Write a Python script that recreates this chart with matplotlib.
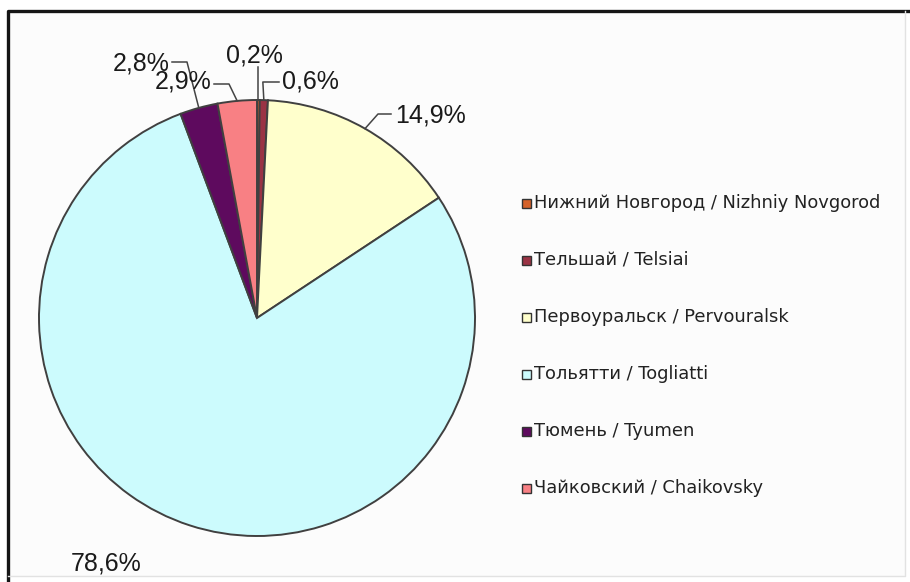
import numpy as np
import matplotlib.pyplot as plt
from matplotlib.patches import Rectangle

plt.rcParams['font.family'] = ['Liberation Sans', 'DejaVu Sans']

cities = ["Нижний Новгород / Nizhniy Novgorod",
          "Тельшай / Telsiai",
          "Первоуральск / Pervouralsk",
          "Тольятти / Togliatti",
          "Тюмень / Tyumen",
          "Чайковский / Chaikovsky"]
shares = [0.2, 0.6, 14.9, 78.6, 2.8, 2.9]
colors = ["#D5622A", "#9A3344", "#FFFFCC", "#CCFBFD", "#5E0A5E", "#F88084"]

W, H = 910, 582
fig = plt.figure(figsize=(W / 100, H / 100), dpi=100)
fig.patch.set_facecolor("white")
ax = fig.add_axes([0, 0, 1, 1])

# chart area with a dark top/left edge and a faint bottom/right edge
ax.add_patch(Rectangle((8, 6), W - 13, H - 17, facecolor="#fcfcfc",
                       edgecolor="none", zorder=0))
ax.plot([8, 8, W], [0, H - 11, H - 11], color="#151515", linewidth=2.4,
        solid_capstyle="butt", zorder=1)
ax.plot([8, W - 5, W - 5], [6, 6, H - 11], color="#e2e2e2", linewidth=1.0,
        zorder=1)

cx, cy, r = 257, H - 318, 218
wedges, _ = ax.pie(shares, startangle=90, counterclock=False, colors=colors,
                   radius=r, center=(cx, cy),
                   wedgeprops=dict(edgecolor="#404040", linewidth=1.4))
ax.set_xlim(0, W)
ax.set_ylim(0, H)
ax.set_aspect("equal")
ax.axis("off")


def rim(w):
    a = np.deg2rad((w.theta1 + w.theta2) / 2)
    return cx + r * np.cos(a), cy + r * np.sin(a)


lab = dict(fontsize=18, color="#1a1a1a", va="center")
lc = dict(color="#444444", linewidth=1.1)

# 0,2%
x0, y0 = rim(wedges[0])
ax.text(254, H - 55, "0,2%", ha="center", **lab)
ax.plot([x0, x0], [H - 67, y0], **lc)
# 0,6%
x1, y1 = rim(wedges[1])
ax.text(282, H - 82, "0,6%", ha="left", **lab)
ax.plot([279, x1 - 1, x1], [H - 82, H - 82, y1], **lc)
# 14,9%
x2, y2 = rim(wedges[2])
ax.text(395, H - 116, "14,9%", ha="left", **lab)
ax.plot([391, 378, x2], [H - 114, H - 114, y2], **lc)
# 78,6%
ax.text(106, H - 563, "78,6%", ha="center", **lab)
# 2,8%
x4, y4 = rim(wedges[4])
ax.text(170, H - 64, "2,8%", ha="right", **lab)
ax.plot([172, 187, x4], [H - 62, H - 62, y4], **lc)
# 2,9%
x5, y5 = rim(wedges[5])
ax.text(211, H - 82, "2,9%", ha="right", **lab)
ax.plot([214, 229, x5], [H - 84, H - 84, y5], **lc)

# legend
for i, (name, c) in enumerate(zip(cities, colors)):
    ly = H - (203 + i * 57)
    ax.add_patch(Rectangle((522, ly - 4.5), 9, 9, facecolor=c,
                           edgecolor="#333333", linewidth=1.0))
    ax.text(534, ly, name, fontsize=12.9, color="#222222", va="center",
            family=["DejaVu Sans"])

fig.savefig("out.png", dpi=100)
